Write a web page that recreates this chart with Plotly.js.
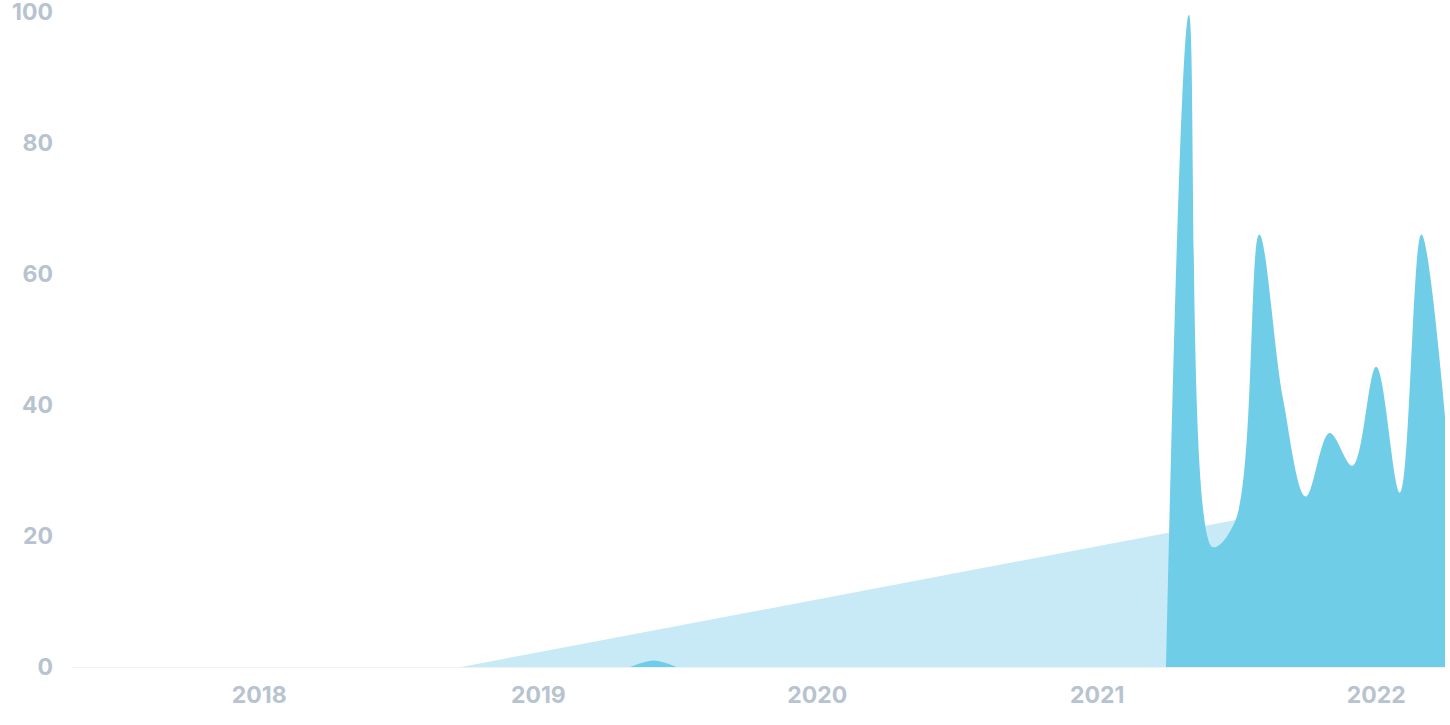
<!DOCTYPE html>
<html>
<head>
<meta charset="utf-8">
<script src="https://cdn.plot.ly/plotly-3.0.1.min.js"></script>
<style>html,body{margin:0;padding:0;background:#fff}#chart{width:1450px;height:725px}</style>
</head>
<body>
<div id="chart"></div>
<script>
const months = [
 '2017-05-01','2017-06-01','2017-07-01','2017-08-01','2017-09-01','2017-10-01','2017-11-01','2017-12-01',
 '2018-01-01','2018-02-01','2018-03-01','2018-04-01','2018-05-01','2018-06-01','2018-07-01','2018-08-01','2018-09-01','2018-10-01','2018-11-01','2018-12-01',
 '2019-01-01','2019-02-01','2019-03-01','2019-04-01','2019-05-01','2019-06-01','2019-07-01','2019-08-01','2019-09-01','2019-10-01','2019-11-01','2019-12-01',
 '2020-01-01','2020-02-01','2020-03-01','2020-04-01','2020-05-01','2020-06-01','2020-07-01','2020-08-01','2020-09-01','2020-10-01','2020-11-01','2020-12-01',
 '2021-01-01','2021-02-01','2021-03-01','2021-04-01','2021-05-01','2021-06-01','2021-07-01','2021-08-01','2021-09-01','2021-10-01','2021-11-01','2021-12-01',
 '2022-01-01','2022-02-01','2022-03-01','2022-04-01'
];
// null = no data for that month
const monthlyValues = [
 null,null,null,null,null,null,null,null,
 null,null,null,null,null,null,null,null,null,null,null,null,
 null,null,null,null,0,1.0,0,null,null,null,null,null,
 null,null,null,null,null,null,null,null,null,null,null,null,
 null,null,null,0,99.5,18.3,22.4,66,41,26,35.7,30.7,
 45.8,26.6,66,38.2
];
const trendDates = ['2018-09-22','2021-08-01'];
const trendValues = [0, 23.1];
const yTicks = [0,20,40,60,80,100];
const yearTicks = ['2018-01-01','2019-01-01','2020-01-01','2021-01-01','2022-01-01'];
const yearLabels = ['2018','2019','2020','2021','2022'];

const tickFont = {family:'Inter, Lato, sans-serif', size:23, color:'#b7c3cf', weight:700};

const traces = [
 {x: trendDates, y: trendValues, type:'scatter', mode:'lines', fill:'tozeroy',
  line:{width:0, color:'#c8eaf7'}, fillcolor:'#c8eaf7', hoverinfo:'skip', showlegend:false},
 {x: months, y: monthlyValues, type:'scatter', mode:'lines', fill:'tozeroy', connectgaps:false,
  line:{width:0, shape:'spline', smoothing:1, color:'#70cde8'}, fillcolor:'#70cde8', hoverinfo:'skip', showlegend:false}
];

const layout = {
 width:1450, height:725,
 margin:{l:72, r:5, t:5, b:58},
 paper_bgcolor:'#ffffff', plot_bgcolor:'#ffffff',
 showlegend:false,
 xaxis:{type:'date', range:['2017-05-01','2022-04-01'], showgrid:false, zeroline:false, showline:false,
   tickvals:yearTicks, ticktext:yearLabels, ticks:'', tickfont:tickFont, ticklabelstandoff:12},
 yaxis:{range:[0,101], tickvals:yTicks, showgrid:false, zeroline:true, zerolinecolor:'#eef1f4', zerolinewidth:1,
   showline:false, ticks:'', tickfont:tickFont, ticklabelstandoff:18, ticklabeloverflow:'allow'}
};
Plotly.newPlot('chart', traces, layout, {displayModeBar:false, staticPlot:true});
</script>
</body>
</html>
